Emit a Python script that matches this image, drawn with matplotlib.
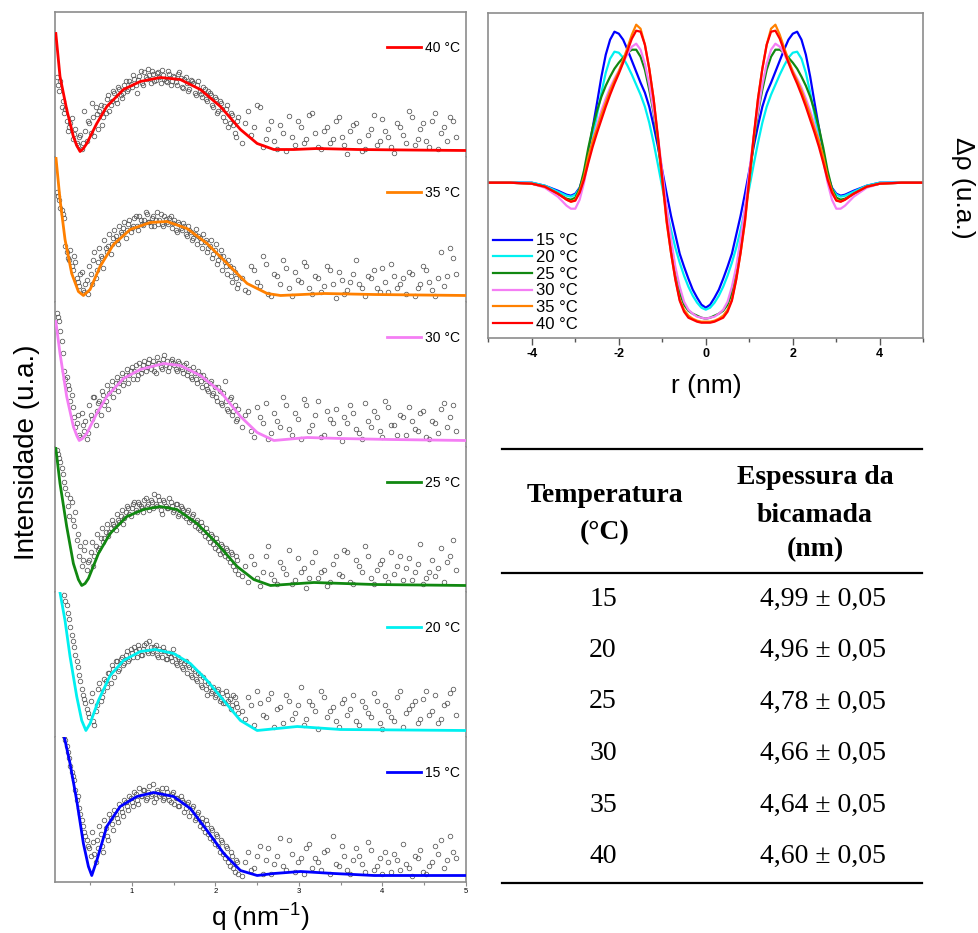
import matplotlib
matplotlib.use('Agg')
import matplotlib.pyplot as plt
from matplotlib.ticker import FixedLocator

plt.rcParams['font.family'] = ['Liberation Sans', 'DejaVu Sans']
plt.rcParams['mathtext.default'] = 'regular'
plt.rcParams['axes.unicode_minus'] = False

# ---------------- data: SAXS curves (intensity, a.u., offset per panel) ----------------
temps = [15, 20, 25, 30, 35, 40]
colors = {15: '#0000ff', 20: '#00f0f0', 25: '#118811', 30: '#f47ef4', 35: '#ff8000', 40: '#ff0000'}

scatter_q = [0.10, 0.13, 0.16, 0.19, 0.22, 0.25, 0.28, 0.31, 0.34, 0.37, 0.40, 0.43, 0.46, 0.49, 0.52, 0.55,
             0.58, 0.61, 0.64, 0.67, 0.70, 0.73, 0.76, 0.79, 0.82, 0.85, 0.88, 0.91, 0.94, 0.97, 1.00, 1.03,
             1.06, 1.09, 1.12, 1.15, 1.18, 1.21, 1.24, 1.27, 1.30, 1.33, 1.36, 1.39, 1.42, 1.45, 1.48, 1.51,
             1.54, 1.57, 1.60, 1.63, 1.66, 1.69, 1.72, 1.75, 1.78, 1.81, 1.84, 1.87, 1.90, 1.93, 1.96, 1.99,
             2.02, 2.05, 2.08, 2.11, 2.14, 2.17, 2.20, 2.23, 2.26,
             2.32, 2.39, 2.46, 2.53, 2.60, 2.67, 2.74, 2.81, 2.88, 2.95, 3.02, 3.09, 3.16, 3.23, 3.30, 3.37,
             3.44, 3.51, 3.58, 3.65, 3.72, 3.79, 3.86, 3.93, 4.00, 4.07, 4.14, 4.21, 4.28, 4.35, 4.42, 4.49,
             4.56, 4.63, 4.70, 4.77, 4.84]
scatter_q2 = [0.115, 0.145, 0.175, 0.205, 0.235, 0.265, 0.295, 0.325, 0.355, 0.385, 0.415, 0.445, 0.475, 0.505,
              0.535, 0.565, 0.595, 0.625, 0.655, 0.685, 0.715, 0.745, 0.775, 0.805, 0.835, 0.865, 0.895, 0.925,
              0.955, 0.985, 1.015, 1.045, 1.075, 1.105, 1.135, 1.165, 1.195, 1.225, 1.255, 1.285, 1.315, 1.345,
              1.375, 1.405, 1.435, 1.465, 1.495, 1.525, 1.555, 1.585, 1.615, 1.645, 1.675, 1.705, 1.735, 1.765,
              1.795, 1.825, 1.855, 1.885, 1.915, 1.945, 1.975, 2.005, 2.035, 2.065, 2.095, 2.125, 2.155, 2.185,
              2.215, 2.245, 2.275,
              2.355, 2.425, 2.495, 2.565, 2.635, 2.705, 2.775, 2.845, 2.915, 2.985, 3.055, 3.125, 3.195, 3.265,
              3.335, 3.405, 3.475, 3.545, 3.615, 3.685, 3.755, 3.825, 3.895, 3.965, 4.035, 4.105, 4.175, 4.245,
              4.315, 4.385, 4.455, 4.525, 4.595, 4.665, 4.735, 4.805, 4.875]

scatter_40 = [74, 60, 44, 38, 30, 24, 33, 17, 8, 14, 2, 40, 10, 28, 48, 15, 37, 40, 26, 45, 52, 40, 50, 58, 48,
              62, 53, 66, 60, 70, 64, 72, 58, 75, 68, 79, 72, 76, 80, 70, 78, 74, 81, 72, 69, 77, 70, 74, 66, 79,
              64, 72, 68, 62, 70, 58, 66, 60, 54, 62, 50, 58, 46, 54, 38, 50, 42, 30, 46, 28, 36, 18, 30,
              8, 40, 24, 44, 12, 30, 2, 18, 35, 6, 24, 12, 38, 4, 20, 8, 30, 14, -3, 26, 10, 2, 22, 6, 32, 14,
              -2, 24, 8, 34, 12, 28, 4, 38, 18, 10, 30]
scatter2_40 = [66, 70, 50, 42, 20, 28, 12, 22, 6, 16, 8, 20, 30, 18, 34, 44, 22, 46, 34, 38, 56, 46, 60, 52, 64,
               56, 58, 70, 62, 67, 76, 66, 71, 80, 66, 74, 82, 68, 77, 71, 79, 68, 76, 70, 80, 66, 75, 69, 77, 73,
               63, 74, 60, 71, 68, 56, 70, 57, 64, 52, 60, 56, 44, 52, 40, 48, 34, 42, 24, 38, 26, 14, 34,
               28, 16, 46, 4, 22, 10, 26, 0, 14, 30, 8, 36, 18, 2, 24, 12, 34, 6, 20, 28, 0, 16, 36, 10, 20, 4,
               28, 16, 40, 6, 22, 10, 30, 2, 24, 34, 14]
scatter_35 = [104, 96, 86, 78, 44, 36, 30, 40, 18, 10, 24, 4, 16, 30, 12, 44, 26, 48, 38, 56, 44, 62, 52, 66, 56,
              70, 62, 74, 66, 76, 68, 78, 70, 80, 72, 76, 82, 74, 78, 70, 84, 76, 72, 80, 74, 78, 68, 76, 64, 72,
              66, 70, 60, 66, 56, 62, 52, 58, 48, 54, 44, 50, 38, 46, 32, 40, 26, 34, 22, 30, 14, 24, 8,
              18, 4, 26, 10, 32, 0, 20, 36, 8, 24, 14, 30, 2, 18, 10, 26, -2, 16, 6, 22, 12, 0, 18, 8, 28, 4,
              20, 12, 2, 22, 8, 30, 14, 0, 44, 20, 38]
scatter2_35 = [100, 88, 82, 50, 38, 46, 26, 34, 14, 22, 6, 12, 2, 22, 36, 18, 34, 40, 28, 48, 50, 42, 58, 60, 52,
               64, 68, 58, 72, 64, 70, 80, 66, 76, 71, 84, 74, 70, 80, 76, 72, 82, 70, 77, 72, 80, 73, 66, 74, 68,
               73, 62, 70, 64, 58, 67, 60, 54, 62, 56, 48, 56, 42, 52, 36, 46, 40, 30, 36, 20, 28, 18, 12,
               6, 30, 14, 40, 2, 22, 12, 28, 0, 16, 34, 8, 20, 4, 30, 12, 24, 2, 14, 36, 8, 20, 26, 4, 14, 32,
               8, 18, 24, 0, 12, 26, 6, 18, 10, 48, 22]
scatter_30 = [128, 120, 100, 70, 64, 52, 46, 24, 18, 6, 28, 10, 2, 36, 22, 44, 30, 40, 50, 36, 56, 48, 60, 52, 64,
              58, 68, 62, 72, 66, 74, 70, 62, 78, 72, 80, 74, 82, 76, 70, 84, 78, 72, 86, 80, 74, 82, 76, 70, 78,
              72, 76, 66, 72, 62, 68, 58, 66, 54, 62, 52, 58, 46, 54, 40, 50, 36, 60, 32, 42, 26, 36, 22,
              14, 30, 4, 24, 38, 8, 20, 44, 12, 28, 2, 36, 16, 40, 6, 22, 32, 0, 18, 28, 8, 38, 14, 24, 4, 34,
              16, 26, 6, 20, 10, 30, 2, 18, 32, 14, 36]
scatter2_30 = [124, 110, 88, 62, 56, 40, 34, 14, 26, 4, 16, 20, 8, 26, 44, 16, 38, 26, 46, 40, 32, 52, 44, 58, 50,
               62, 56, 66, 58, 70, 62, 76, 66, 68, 76, 70, 78, 72, 80, 68, 78, 74, 82, 76, 70, 80, 78, 72, 80, 74,
               68, 78, 70, 64, 74, 62, 70, 60, 66, 56, 50, 60, 48, 44, 54, 38, 48, 40, 30, 44, 30, 20, 32,
               26, 10, 34, 18, 2, 28, 14, 36, 6, 22, 42, 10, 26, 4, 30, 18, 8, 24, 36, 12, 2, 20, 30, 10, 40, 16,
               6, 24, 34, 12, 28, 4, 20, 8, 38, 24, 10]
scatter_25 = [136, 128, 118, 104, 92, 70, 84, 60, 46, 30, 20, 36, 16, 26, 44, 30, 52, 38, 58, 48, 62, 54, 66, 60,
              72, 64, 76, 68, 80, 72, 78, 84, 74, 82, 78, 86, 80, 76, 84, 92, 80, 86, 72, 84, 78, 88, 80, 76, 82,
              72, 78, 70, 74, 64, 70, 60, 66, 56, 60, 50, 54, 44, 50, 38, 44, 32, 40, 30, 36, 24, 32, 16, 26,
              10, 4, 22, 0, 30, 12, 2, 18, 36, 6, 14, -2, 24, 8, 16, 4, 30, 10, 34, 2, 20, 40, 8, 16, 26, 4,
              12, 30, 18, 6, 22, 2, 14, 10, 38, 24, 46]
scatter2_25 = [132, 124, 112, 98, 80, 88, 66, 74, 52, 40, 26, 44, 24, 34, 20, 40, 36, 48, 44, 54, 50, 58, 62, 56,
               66, 70, 62, 74, 78, 70, 82, 76, 84, 80, 74, 88, 82, 86, 78, 82, 90, 76, 86, 80, 78, 84, 74, 82, 70,
               80, 76, 68, 76, 66, 72, 64, 58, 64, 54, 58, 48, 52, 42, 48, 36, 42, 34, 38, 28, 34, 20, 30, 12,
               20, 30, 8, 14, 40, 6, 24, 12, 2, 28, 18, 8, 34, 14, 0, 22, 12, 36, 4, 26, 14, 30, 2, 22, 10, 34,
               20, 6, 28, 14, 42, 8, 26, 18, 4, 30, 16]
scatter_20 = [170, 160, 150, 136, 126, 112, 96, 84, 70, 56, 42, 32, 22, 14, 38, 6, 26, 48, 34, 52, 44, 58, 66, 54,
              70, 62, 74, 68, 80, 72, 78, 84, 74, 82, 76, 86, 80, 90, 78, 84, 76, 82, 74, 80, 72, 78, 70, 76, 66,
              72, 64, 68, 58, 64, 54, 60, 50, 56, 44, 50, 36, 44, 40, 34, 40, 30, 38, 28, 36, 32, 26, 34, 24,
              20, 34, 6, 28, 14, 38, 22, 8, 30, 18, 44, 12, 26, 2, 34, 20, 10, 28, 16, 36, 6, 24, 14, 30, 2, 20,
              10, 40, 18, 26, 8, 32, 16, 36, 12, 28, 42]
scatter2_20 = [166, 154, 142, 130, 118, 104, 90, 76, 64, 50, 36, 28, 18, 30, 10, 20, 42, 30, 40, 50, 58, 48, 62, 70,
               60, 72, 66, 76, 70, 82, 74, 80, 86, 76, 82, 88, 78, 84, 80, 86, 74, 80, 84, 72, 78, 74, 82, 68, 74,
               70, 62, 70, 66, 56, 62, 52, 58, 46, 54, 42, 48, 38, 44, 36, 42, 32, 28, 40, 30, 22, 36, 28, 18,
               12, 26, 40, 16, 32, 4, 24, 36, 12, 26, 6, 30, 20, 40, 14, 24, 4, 32, 22, 10, 30, 18, 38, 8, 26, 14,
               34, 4, 22, 30, 12, 40, 20, 8, 26, 38, 16]
scatter_15 = [180, 170, 160, 140, 130, 118, 104, 96, 76, 68, 56, 44, 36, 28, 44, 22, 36, 50, 30, 56, 40, 62, 52, 66,
              58, 72, 64, 76, 70, 80, 74, 84, 76, 88, 80, 86, 78, 90, 82, 74, 86, 80, 88, 78, 84, 76, 82, 72, 78,
              70, 76, 64, 72, 60, 68, 56, 62, 50, 58, 44, 52, 38, 46, 32, 40, 24, 34, 18, 28, 10, 20, 4, 14,
              0, 24, 8, 30, 16, 2, 20, 10, 36, 4, 18, 28, 8, 14, 24, 2, 12, 30, 6, 16, 20, 4, 26, 10, 2, 14,
              22, 6, 12, 0, 18, 4, 10, 30, 36, 16, 24]
scatter2_15 = [176, 164, 150, 136, 124, 110, 100, 86, 80, 62, 50, 40, 30, 20, 34, 14, 28, 42, 24, 48, 36, 58, 46, 62,
               54, 68, 60, 74, 66, 78, 70, 82, 72, 80, 86, 76, 84, 80, 92, 78, 84, 82, 76, 88, 80, 74, 84, 78, 70,
               80, 74, 68, 74, 64, 70, 58, 64, 54, 48, 56, 42, 48, 36, 42, 30, 36, 22, 30, 14, 24, 8, 16, 2,
               14, 6, 20, 2, 28, 12, 38, 6, 22, 14, 2, 32, 18, 6, 26, 40, 10, 20, 2, 28, 12, 34, 6, 18, 24, 4,
               16, 32, 8, 20, 26, 2, 14, 22, 8, 40, 18]

fit_q_40 = [0.09, 0.14, 0.22, 0.30, 0.34, 0.38, 0.42, 0.46, 0.52, 0.58, 0.70, 0.90, 1.10, 1.34, 1.58, 1.82, 2.06,
            2.30, 2.50, 2.70, 2.94, 3.22, 3.70, 4.30, 5.00]
fit_i_40 = [117, 74, 41, 14, 5, -1, 2, 7, 17, 27, 44, 61, 69, 73, 71, 61, 44, 21, 7, 1, 1, 2, 1, 0.5, 0]
fit_q_35 = [0.09, 0.14, 0.20, 0.28, 0.36, 0.42, 0.50, 0.62, 0.78, 0.98, 1.22, 1.42, 1.66, 1.90, 2.14, 2.38, 2.62,
            2.78, 3.30, 3.90, 5.00]
fit_i_35 = [139, 96, 56, 22, 4, 0, 6, 29, 51, 66, 73, 74, 67, 52, 32, 12, 2, 0, 2, 1, 0]
fit_q_30 = [0.09, 0.14, 0.22, 0.30, 0.34, 0.37, 0.41, 0.46, 0.58, 0.70, 0.90, 1.10, 1.38, 1.58, 1.82, 2.06, 2.30,
            2.50, 2.70, 3.10, 3.50, 4.10, 5.00]
fit_i_30 = [119, 87, 44, 14, 5, 0, 2, 7, 27, 44, 62, 71, 77, 75, 65, 49, 24, 8, 0, 3, 2, 1, 0]
fit_q_25 = [0.09, 0.14, 0.22, 0.30, 0.36, 0.40, 0.44, 0.48, 0.60, 0.74, 0.94, 1.14, 1.34, 1.54, 1.78, 2.02, 2.26,
            2.46, 2.66, 3.18, 3.90, 5.00]
fit_i_25 = [137, 102, 59, 22, 6, 0, 2, 7, 32, 52, 69, 76, 79, 76, 62, 42, 19, 6, 0, 3, 1, 0]
fit_q_20 = [0.10, 0.14, 0.20, 0.26, 0.34, 0.40, 0.45, 0.50, 0.60, 0.74, 0.90, 1.10, 1.28, 1.50, 1.70, 1.90, 2.10,
            2.30, 2.50, 2.98, 3.50, 5.00]
fit_i_20 = [165, 138, 110, 74, 34, 10, 0, 7, 30, 55, 70, 79, 81, 77, 67, 50, 30, 10, 0, 4, 1, 0]
fit_q_15 = [0.12, 0.19, 0.26, 0.34, 0.42, 0.48, 0.52, 0.58, 0.70, 0.86, 1.06, 1.26, 1.50, 1.70, 1.90, 2.10, 2.30,
            2.50, 2.70, 3.02, 3.42, 3.90, 5.00]
fit_i_15 = [166, 139, 112, 75, 32, 9, 0, 15, 49, 69, 79, 83, 79, 67, 45, 22, 5, 0, 2, 4, 2, 0, 0]

# ---------------- data: electron density profiles ----------------
r_nm = [-5.0, -4.5, -4.0, -3.7, -3.4, -3.2, -3.1, -3.0, -2.9, -2.8, -2.7, -2.6, -2.5, -2.4, -2.3, -2.2, -2.1,
        -2.0, -1.9, -1.8, -1.7, -1.6, -1.5, -1.4, -1.3, -1.2, -1.1, -1.0, -0.9, -0.8, -0.7, -0.6, -0.5, -0.4,
        -0.3, -0.2, -0.1, 0.0, 0.1, 0.2, 0.3, 0.4, 0.5, 0.6, 0.7, 0.8, 0.9, 1.0, 1.1, 1.2, 1.3, 1.4, 1.5, 1.6,
        1.7, 1.8, 1.9, 2.0, 2.1, 2.2, 2.3, 2.4, 2.5, 2.6, 2.7, 2.8, 2.9, 3.0, 3.1, 3.2, 3.4, 3.7, 4.0, 4.5, 5.0]
rho_15 = [0, 0, 0, -3, -8, -12, -13, -11, -5, 8, 30, 55, 80, 106, 128, 143, 151, 149, 143, 133, 122, 111, 100, 90,
          76, 57, 36, 12, -11, -33, -52, -71, -84, -96, -107, -115, -122, -125,
          -122, -115, -107, -96, -84, -71, -52, -33, -11, 12, 36, 57, 76, 90, 100, 111, 122, 133, 143, 149, 151,
          143, 128, 106, 80, 55, 30, 8, -5, -11, -13, -12, -8, -3, 0, 0, 0]
rho_20 = [0, 0, 0, -3, -9, -13, -14, -12, -6, 5, 24, 45, 68, 90, 110, 124, 131, 130, 125, 117, 108, 98, 88, 76,
          60, 40, 18, -5, -27, -47, -65, -80, -93, -104, -113, -120, -125, -127,
          -125, -120, -113, -104, -93, -80, -65, -47, -27, -5, 18, 40, 60, 76, 88, 98, 108, 117, 125, 130, 131,
          124, 110, 90, 68, 45, 24, 5, -6, -12, -14, -13, -9, -3, 0, 0, 0]
rho_25 = [0, 0, -1, -4, -11, -16, -17, -15, -6, 12, 35, 55, 72, 86, 97, 106, 114, 120, 125, 130, 133, 133, 126,
          113, 93, 70, 40, 3, -30, -63, -90, -110, -122, -128, -131, -133, -135, -136,
          -135, -133, -131, -128, -122, -110, -90, -63, -30, 3, 40, 70, 93, 113, 126, 133, 133, 130, 125, 120,
          114, 106, 97, 86, 72, 55, 35, 12, -6, -15, -17, -16, -11, -4, -1, 0, 0]
rho_30 = [0, 0, -1, -5, -14, -23, -26, -26, -17, 0, 22, 42, 58, 72, 84, 95, 104, 112, 120, 129, 136, 139, 133,
          119, 98, 72, 46, 11, -25, -56, -84, -104, -119, -127, -131, -134, -135, -136,
          -135, -134, -131, -127, -119, -104, -84, -56, -25, 11, 46, 72, 98, 119, 133, 139, 136, 129, 120, 112,
          104, 95, 84, 72, 58, 42, 22, 0, -17, -26, -26, -23, -14, -5, -1, 0, 0]
rho_35 = [0, 0, -1, -4, -11, -17, -19, -17, -8, 6, 26, 42, 54, 68, 80, 92, 102, 111, 123, 135, 148, 158, 154,
          138, 114, 84, 44, 2, -40, -70, -96, -117, -127, -133, -136, -138, -139, -139,
          -139, -138, -136, -133, -127, -117, -96, -70, -40, 2, 44, 84, 114, 138, 154, 158, 148, 135, 123, 111,
          102, 92, 80, 68, 54, 42, 26, 6, -8, -17, -19, -17, -11, -4, -1, 0, 0]
rho_40 = [0, 0, -1, -4, -11, -17, -19, -18, -10, 3, 20, 36, 50, 63, 76, 88, 99, 109, 120, 132, 144, 152, 151,
          138, 114, 84, 46, 4, -38, -70, -97, -118, -129, -135, -137, -139, -140, -140,
          -140, -139, -137, -135, -129, -118, -97, -70, -38, 4, 46, 84, 114, 138, 151, 152, 144, 132, 120, 109,
          99, 88, 76, 63, 50, 36, 20, 3, -10, -18, -19, -17, -11, -4, -1, 0, 0]

# ---------------- data: table ----------------
table_temps = ['15', '20', '25', '30', '35', '40']
table_thickness = ['4,99', '4,96', '4,78', '4,66', '4,64', '4,60']
table_error = ['0,05', '0,05', '0,05', '0,05', '0,05', '0,05']

fits = {40: (fit_q_40, fit_i_40), 35: (fit_q_35, fit_i_35), 30: (fit_q_30, fit_i_30),
        25: (fit_q_25, fit_i_25), 20: (fit_q_20, fit_i_20), 15: (fit_q_15, fit_i_15)}
scatters = {40: (scatter_40, scatter2_40), 35: (scatter_35, scatter2_35), 30: (scatter_30, scatter2_30),
            25: (scatter_25, scatter2_25), 20: (scatter_20, scatter2_20), 15: (scatter_15, scatter2_15)}
profiles = {15: rho_15, 20: rho_20, 25: rho_25, 30: rho_30, 35: rho_35, 40: rho_40}

# ---------------- figure ----------------
W, H = 979, 933
fig = plt.figure(figsize=(W / 100, H / 100), dpi=100)
FRAME = '#8c8c8c'


def rect(x0, y0, x1, y1):
    return [x0 / W, 1 - y1 / H, (x1 - x0) / W, (y1 - y0) / H]


# left stacked panels
top_px, bot_px = 12, 882
ph = (bot_px - top_px) / 6
order = [40, 35, 30, 25, 20, 15]
for i, t in enumerate(order):
    y0 = top_px + i * ph
    ax = fig.add_axes(rect(55, y0, 466, y0 + ph))
    ax.set_xlim(0.08, 5.0)
    ax.set_ylim(-6.5, 138.5)
    ax.set_yticks([])
    for s in ['left', 'right', 'top', 'bottom']:
        ax.spines[s].set_color(FRAME)
        ax.spines[s].set_linewidth(1.2)
    ax.spines['top'].set_visible(i == 0)
    ax.spines['bottom'].set_visible(i == 5)
    s1, s2 = scatters[t]
    ax.plot(scatter_q, s1, 'o', mfc='none', mec='#555555', ms=3.3, mew=0.55, zorder=2)
    ax.plot(scatter_q2, s2, 'o', mfc='none', mec='#555555', ms=3.3, mew=0.55, zorder=2)
    fq, fi = fits[t]
    ln, = ax.plot(fq, fi, color=colors[t], lw=2.0, zorder=3)
    ax.legend([ln], [f'{t} °C'], loc='upper right', bbox_to_anchor=(0.985, 0.80), frameon=False,
              fontsize=10, handlelength=2.4, handletextpad=0.3, borderpad=0, borderaxespad=0)
    if i == 5:
        ax.xaxis.set_major_locator(FixedLocator([1, 2, 3, 4, 5]))
        ax.xaxis.set_minor_locator(FixedLocator([0.5, 1.5, 2.5, 3.5, 4.5]))
        ax.tick_params(axis='x', which='major', direction='out', length=3, width=0.8, color=FRAME,
                       labelsize=5.5, pad=1.5)
        ax.tick_params(axis='x', which='minor', direction='out', length=2, width=0.8, color=FRAME)
    else:
        ax.set_xticks([])

fig.text(27 / W, 1 - 452 / H, 'Intensidade (u.a.)', rotation=90, ha='center', va='center', fontsize=20)
fig.text(260.5 / W, 1 - 918 / H, 'q (nm$^{-1}$)', ha='center', va='center', fontsize=19)

# right density profile
axr = fig.add_axes(rect(488.3, 13.3, 923.3, 338.3))
axr.set_xlim(-5, 5)
axr.set_ylim(-155.6, 169.4)
axr.set_yticks([])
for s in axr.spines.values():
    s.set_color(FRAME)
    s.set_linewidth(1.2)
handles = []
for t in temps:
    h, = axr.plot(r_nm, profiles[t], color=colors[t], lw=1.6, label=f'{t} °C')
    handles.append(h)
axr.xaxis.set_major_locator(FixedLocator([-4, -2, 0, 2, 4]))
axr.xaxis.set_minor_locator(FixedLocator([-5, -3, -1, 1, 3, 5]))
axr.tick_params(axis='x', which='major', direction='out', length=5, width=1, color='#555555', labelsize=9,
                pad=2)
axr.tick_params(axis='x', which='minor', direction='out', length=3, width=1, color='#555555')
for lab in axr.get_xticklabels():
    lab.set_fontweight('bold')
axr.legend(handles=handles, loc='lower left', bbox_to_anchor=(0.011, 0.02), frameon=False, fontsize=12,
           handlelength=2.35, handletextpad=0.25, labelspacing=0.1, borderpad=0, borderaxespad=0)
fig.text(706.7 / W, 1 - 386 / H, 'r (nm)', ha='center', va='center', fontsize=19)
fig.text(963 / W, 1 - 188 / H, 'Δρ (u.a.)', rotation=270, ha='center', va='center', fontsize=19)

# table
axt = fig.add_axes([0, 0, 1, 1], zorder=-1)
axt.set_xlim(0, W)
axt.set_ylim(H, 0)
axt.axis('off')
for yl in [449.3, 572.7, 882.7]:
    axt.plot([501.7, 921.7], [yl, yl], color='black', lw=1.6)
serif = ['Liberation Serif', 'DejaVu Serif']
hdr = dict(ha='center', va='center', fontsize=20, fontweight='bold', family=serif)
axt.text(605, 495, 'Temperatura', **hdr)
axt.text(605, 533, '(°C)', **hdr)
axt.text(815, 478, 'Espessura da', **hdr)
axt.text(815, 516, 'bicamada', **hdr)
axt.text(815, 550, '(nm)', **hdr)
for k in range(len(table_temps)):
    yk = 599 + 51.5 * k
    axt.text(603, yk, table_temps[k], ha='center', va='center', fontsize=20, family=serif)
    axt.text(823, yk, f'{table_thickness[k]} ± {table_error[k]}', ha='center', va='center', fontsize=20,
             family=serif)

fig.savefig('out.png', dpi=100)
